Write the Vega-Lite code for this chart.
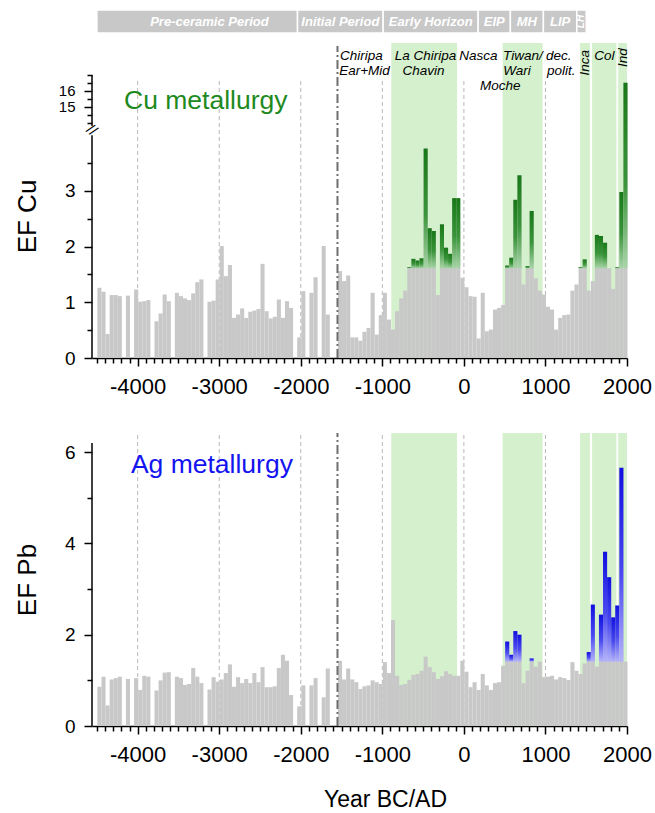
{
  "$schema": "https://vega.github.io/schema/vega-lite/v6.json",
  "padding": {"left": 14, "top": 9, "right": 2, "bottom": 2},
  "spacing": 35,
  "config": {
    "view": {"stroke": null},
    "font": "Liberation Sans",
    "axis": {"labelFont": "Liberation Sans", "titleFont": "Liberation Sans", "labelColor": "black", "titleColor": "black", "domainColor": "black", "tickColor": "black", "tickWidth": 1.5, "domainWidth": 1.5, "grid": false, "titleFontWeight": "normal", "labelFlush": false, "labelOverlap": false}
  },
  "datasets": {
    "ef": [
      {"year":-4500,"cu":1.26,"pb":0.86},{"year":-4450,"cu":1.19,"pb":1.08},{"year":-4400,"cu":0.43,"pb":0.45},{"year":-4350,"cu":1.13,"pb":1.02},{"year":-4300,"cu":1.13,"pb":1.05},
      {"year":-4250,"cu":1.11,"pb":1.08},{"year":-4200,"cu":0,"pb":0},{"year":-4150,"cu":1.12,"pb":1.03},{"year":-4100,"cu":0,"pb":0},{"year":-4050,"cu":1.23,"pb":1.05},
      {"year":-4000,"cu":1.01,"pb":0.79},{"year":-3950,"cu":1.02,"pb":1.10},{"year":-3900,"cu":1.04,"pb":1.08},{"year":-3850,"cu":0,"pb":0},{"year":-3800,"cu":0.66,"pb":0.78},
      {"year":-3750,"cu":0.80,"pb":1.00},{"year":-3700,"cu":1.14,"pb":1.17},{"year":-3650,"cu":1.02,"pb":1.18},{"year":-3600,"cu":0,"pb":0},{"year":-3550,"cu":1.17,"pb":1.08},
      {"year":-3500,"cu":1.11,"pb":1.05},{"year":-3450,"cu":1.07,"pb":0.90},{"year":-3400,"cu":1.04,"pb":0.92},{"year":-3350,"cu":1.16,"pb":1.27},{"year":-3300,"cu":1.36,"pb":1.08},
      {"year":-3250,"cu":1.41,"pb":0.94},{"year":-3200,"cu":0,"pb":0},{"year":-3150,"cu":1.01,"pb":0.80},{"year":-3100,"cu":1.03,"pb":1.07},{"year":-3050,"cu":1.41,"pb":0.97},
      {"year":-3000,"cu":2.01,"pb":1.02},{"year":-2950,"cu":1.47,"pb":1.16},{"year":-2900,"cu":1.67,"pb":1.35},{"year":-2850,"cu":0.72,"pb":0.86},{"year":-2800,"cu":0.78,"pb":1.07},
      {"year":-2750,"cu":0.89,"pb":0.94},{"year":-2700,"cu":0.72,"pb":1.03},{"year":-2650,"cu":0.83,"pb":0.94},{"year":-2600,"cu":0.85,"pb":1.16},{"year":-2550,"cu":0.88,"pb":0.96},
      {"year":-2500,"cu":1.69,"pb":1.29},{"year":-2450,"cu":0.84,"pb":0.85},{"year":-2400,"cu":0.71,"pb":0.85},{"year":-2350,"cu":0.74,"pb":0.87},{"year":-2300,"cu":1.05,"pb":1.27},
      {"year":-2250,"cu":0.72,"pb":1.56},{"year":-2200,"cu":1.02,"pb":1.43},{"year":-2150,"cu":0.90,"pb":0.68},{"year":-2100,"cu":0,"pb":0},{"year":-2050,"cu":0.37,"pb":0.43},
      {"year":-2000,"cu":1.20,"pb":0.89},{"year":-1950,"cu":0,"pb":0},{"year":-1900,"cu":1.17,"pb":0.89},{"year":-1850,"cu":1.45,"pb":1.05},{"year":-1800,"cu":0,"pb":0},
      {"year":-1750,"cu":2.01,"pb":0.63},{"year":-1700,"cu":0.78,"pb":1.26},{"year":-1650,"cu":0,"pb":0},{"year":-1600,"cu":0,"pb":0},{"year":-1550,"cu":1.56,"pb":1.43},
      {"year":-1500,"cu":1.38,"pb":1.02},{"year":-1450,"cu":1.48,"pb":1.26},{"year":-1400,"cu":0.37,"pb":1.02},{"year":-1350,"cu":0.37,"pb":0.96},{"year":-1300,"cu":0.31,"pb":0.81},
      {"year":-1250,"cu":0.47,"pb":0.87},{"year":-1200,"cu":0.54,"pb":0.89},{"year":-1150,"cu":1.17,"pb":1.00},{"year":-1100,"cu":0.42,"pb":0.96},{"year":-1050,"cu":0.77,"pb":0.92},
      {"year":-1000,"cu":1.17,"pb":1.40},{"year":-950,"cu":0.69,"pb":1.16},{"year":-900,"cu":0.51,"pb":2.32},{"year":-850,"cu":0.84,"pb":1.10},{"year":-800,"cu":1.07,"pb":0.90},
      {"year":-750,"cu":1.21,"pb":0.92},{"year":-700,"cu":1.63,"pb":1.01},{"year":-650,"cu":1.78,"pb":1.12},{"year":-600,"cu":1.75,"pb":1.14},{"year":-550,"cu":1.79,"pb":1.21},
      {"year":-500,"cu":3.76,"pb":1.52},{"year":-450,"cu":2.33,"pb":1.29},{"year":-400,"cu":2.28,"pb":1.18},{"year":-350,"cu":1.13,"pb":1.03},{"year":-300,"cu":2.40,"pb":1.09},
      {"year":-250,"cu":1.98,"pb":1.20},{"year":-200,"cu":1.87,"pb":1.14},{"year":-150,"cu":2.87,"pb":1.10},{"year":-100,"cu":2.87,"pb":1.10},{"year":-50,"cu":1.44,"pb":1.43},
      {"year":0,"cu":1.27,"pb":1.19},{"year":50,"cu":1.11,"pb":0.85},{"year":100,"cu":1.10,"pb":0.96},{"year":150,"cu":0.35,"pb":0.79},{"year":200,"cu":1.17,"pb":1.14},
      {"year":250,"cu":0.48,"pb":0.89},{"year":300,"cu":0.51,"pb":0.79},{"year":350,"cu":0.87,"pb":0.94},{"year":400,"cu":0.90,"pb":0.96},{"year":450,"cu":0.95,"pb":1.32},
      {"year":500,"cu":1.66,"pb":1.85},{"year":550,"cu":1.80,"pb":1.56},{"year":600,"cu":2.84,"pb":2.08},{"year":650,"cu":3.28,"pb":2.00},{"year":700,"cu":1.32,"pb":0.94},
      {"year":750,"cu":1.65,"pb":1.21},{"year":800,"cu":2.64,"pb":1.48},{"year":850,"cu":1.43,"pb":1.30},{"year":900,"cu":1.21,"pb":1.41},{"year":950,"cu":1.14,"pb":1.07},
      {"year":1000,"cu":0.92,"pb":1.08},{"year":1050,"cu":0.87,"pb":1.10},{"year":1100,"cu":0.51,"pb":1.02},{"year":1150,"cu":0.72,"pb":1.07},{"year":1200,"cu":0.77,"pb":1.05},
      {"year":1250,"cu":0.78,"pb":1.01},{"year":1300,"cu":1.21,"pb":1.40},{"year":1350,"cu":1.32,"pb":1.21},{"year":1400,"cu":1.63,"pb":1.14},{"year":1450,"cu":1.77,"pb":1.37},
      {"year":1500,"cu":1.21,"pb":1.62},{"year":1550,"cu":1.38,"pb":2.66},{"year":1600,"cu":2.21,"pb":1.30},{"year":1650,"cu":2.19,"pb":2.44},{"year":1700,"cu":2.07,"pb":3.82},
      {"year":1750,"cu":1.61,"pb":3.26},{"year":1800,"cu":1.24,"pb":2.38},{"year":1850,"cu":1.63,"pb":2.64},{"year":1900,"cu":2.98,"pb":5.66},{"year":1950,"cu":16.52,"pb":1.41}
    ],
    "bands": [{"s":-890,"e":-85},{"s":475,"e":965},{"s":1425,"e":1545},{"s":1572,"e":1870},{"s":1892,"e":2000}],
    "grid": [{"g":-4000},{"g":-3000},{"g":-2000},{"g":-1000},{"g":0},{"g":1000}],
    "periods": [
      {"s":-4500,"e":-2040,"m":-3120,"name":"Pre-ceramic Period"},
      {"s":-2040,"e":-990,"m":-1515,"name":"Initial Period"},
      {"s":-990,"e":175,"m":-407,"name":"Early Horizon"},
      {"s":175,"e":570,"m":372,"name":"EIP"},
      {"s":570,"e":975,"m":772,"name":"MH"},
      {"s":975,"e":1385,"m":1180,"name":"LIP"},
      {"s":1385,"e":1500,"m":1442,"name":"LH"}
    ],
    "labels": [
      {"t":"Chiripa","x":-1256,"y":18.19},
      {"t":"Ear+Mid","x":-1219,"y":17.25},
      {"t":"La Chiripa","x":-472,"y":18.19},
      {"t":"Chavin","x":-496,"y":17.25},
      {"t":"Nasca","x":178,"y":18.19},
      {"t":"Tiwan/","x":723,"y":18.19},
      {"t":"Wari","x":650,"y":17.25},
      {"t":"Moche","x":447,"y":16.335},
      {"t":"dec.","x":1164,"y":18.19},
      {"t":"polit.","x":1195,"y":17.25},
      {"t":"Col","x":1722,"y":18.19}
    ],
    "vlabels": [
      {"t":"Inca","x":1489,"y":17.77},
      {"t":"Ind","x":1955,"y":18.08}
    ]
  },
  "vconcat": [
    {
      "width": 535,
      "height": 348,
      "layer": [
        {
          "data": {"name": "bands"},
          "mark": {"type": "rect", "color": "#d4f0cc"},
          "encoding": {
            "x": {"field": "s", "type": "quantitative",
                  "scale": {"domain": [-4560, 2000], "nice": false, "zero": false},
                  "axis": {"title": null, "labelOverlap": false, "tickCount": 200,
                           "values": [-4500,-4400,-4300,-4200,-4100,-4000,-3900,-3800,-3700,-3600,-3500,-3400,-3300,-3200,-3100,-3000,-2900,-2800,-2700,-2600,-2500,-2400,-2300,-2200,-2100,-2000,-1900,-1800,-1700,-1600,-1500,-1400,-1300,-1200,-1100,-1000,-900,-800,-700,-600,-500,-400,-300,-200,-100,0,100,200,300,400,500,600,700,800,900,1000,1100,1200,1300,1400,1500,1600,1700,1800,1900,2000],
                           "labelExpr": "datum.value % 1000 === 0 ? toString(datum.value) : ''",
                           "tickSize": {"condition": {"test": "datum.value % 1000 === 0", "value": 8}, "value": 5},
                           "labelFontSize": 22, "labelPadding": 10}},
            "x2": {"field": "e"},
            "y": {"datum": 0, "type": "quantitative",
                  "scale": {"domain": [0, 4.05, 13.75, 21.06], "range": [348, 122.4, 117, 0], "nice": false, "zero": false},
                  "axis": {"title": "EF Cu", "titleFontSize": 26, "titlePadding": 8, "minExtent": 44, "maxExtent": 44, "titleY": 206,
                           "domain": false, "labelOverlap": false, "tickCount": 200,
                           "values": [0,0.5,1,1.5,2,2.5,3,3.5,14,14.5,15,15.5,16,16.5,17],
                           "labelExpr": "indexof([0,1,2,3,15,16], datum.value) >= 0 ? toString(datum.value) : ''",
                           "tickSize": {"condition": {"test": "indexof([0,1,2,3,15,16], datum.value) >= 0", "value": 8}, "value": 5},
                           "labelFontSize": {"condition": {"test": "datum.value > 10", "value": 15}, "value": 19},
                           "labelPadding": 9}},
            "y2": {"datum": 19.0}
          }
        },
        {
          "data": {"name": "grid"},
          "mark": {"type": "rule", "color": "#b8b8b8", "strokeWidth": 1, "strokeDash": [4, 3]},
          "encoding": {
            "x": {"field": "g", "type": "quantitative"},
            "y": {"datum": 0, "type": "quantitative"},
            "y2": {"datum": 16.81}
          }
        },
        {
          "data": {"name": "ef"},
          "mark": {"type": "bar", "color": "#c8c8c8", "binSpacing": 0},
          "encoding": {
            "x": {"field": "year", "type": "quantitative", "bin": {"binned": true, "step": 50}},
            "y": {"field": "cu", "type": "quantitative"},
            "y2": {"datum": 0}
          }
        },
        {
          "data": {"name": "ef"},
          "transform": [{"filter": "datum.cu > 1.615 && datum.year > -1000"}],
          "mark": {"type": "bar", "binSpacing": 0, "strokeWidth": 0,
                   "fill": {"gradient": "linear", "x1": 0, "y1": 1, "x2": 0, "y2": 0,
                            "stops": [{"offset": 0, "color": "#a9d5a9"}, {"offset": 0.45, "color": "#3a953a"}, {"offset": 1, "color": "#187818"}]}},
          "encoding": {
            "x": {"field": "year", "type": "quantitative", "bin": {"binned": true, "step": 50}},
            "y": {"field": "cu", "type": "quantitative"},
            "y2": {"datum": 1.61}
          }
        },
        {
          "data": {"values": [{"x": -1550}]},
          "mark": {"type": "rule", "color": "#6e6e6e", "strokeWidth": 2, "strokeDash": [9, 3, 2, 3]},
          "encoding": {
            "x": {"field": "x", "type": "quantitative"},
            "y": {"datum": 0, "type": "quantitative"},
            "y2": {"datum": 18.81}
          }
        },
        {
          "data": {"values": [{"a": 0, "b": 4.0}, {"a": 13.81, "b": 17.0}]},
          "mark": {"type": "rule", "color": "black", "strokeWidth": 1.5},
          "encoding": {
            "x": {"datum": -4560, "type": "quantitative"},
            "y": {"field": "a", "type": "quantitative"},
            "y2": {"field": "b"}
          }
        },
        {
          "data": {"values": [{"t": "//"}]},
          "mark": {"type": "text", "fontSize": 15, "angle": 40, "color": "black", "align": "center", "baseline": "middle"},
          "encoding": {
            "x": {"datum": -4560, "type": "quantitative"},
            "y": {"datum": 8, "type": "quantitative"},
            "text": {"field": "t"}
          }
        },
        {
          "data": {"name": "periods"},
          "mark": {"type": "rect", "color": "#c8c8c8", "stroke": "white", "strokeWidth": 1.5},
          "encoding": {
            "x": {"field": "s", "type": "quantitative"},
            "x2": {"field": "e"},
            "y": {"datum": 19.62, "type": "quantitative"},
            "y2": {"datum": 21.06}
          }
        },
        {
          "data": {"name": "periods"},
          "transform": [{"filter": "datum.name !== 'LH'"}],
          "mark": {"type": "text", "color": "white", "fontSize": 13, "fontWeight": "bold", "fontStyle": "italic", "align": "center", "baseline": "middle"},
          "encoding": {
            "x": {"field": "m", "type": "quantitative"},
            "y": {"datum": 20.34, "type": "quantitative"},
            "text": {"field": "name"}
          }
        },
        {
          "data": {"name": "periods"},
          "transform": [{"filter": "datum.name === 'LH'"}],
          "mark": {"type": "text", "color": "white", "fontSize": 10, "fontWeight": "bold", "fontStyle": "italic", "align": "center", "baseline": "middle", "angle": -90},
          "encoding": {
            "x": {"field": "m", "type": "quantitative"},
            "y": {"datum": 20.34, "type": "quantitative"},
            "text": {"field": "name"}
          }
        },
        {
          "data": {"name": "labels"},
          "mark": {"type": "text", "color": "black", "fontSize": 13.5, "fontStyle": "italic", "align": "center", "baseline": "middle"},
          "encoding": {
            "x": {"field": "x", "type": "quantitative"},
            "y": {"field": "y", "type": "quantitative"},
            "text": {"field": "t"}
          }
        },
        {
          "data": {"name": "vlabels"},
          "mark": {"type": "text", "color": "black", "fontSize": 13.5, "fontStyle": "italic", "align": "center", "baseline": "middle", "angle": -90},
          "encoding": {
            "x": {"field": "x", "type": "quantitative"},
            "y": {"field": "y", "type": "quantitative"},
            "text": {"field": "t"}
          }
        },
        {
          "data": {"values": [{"t": "Cu metallurgy", "x": -3165, "y": 14.86}]},
          "mark": {"type": "text", "color": "#1e8a1e", "fontSize": 26.5, "align": "center", "baseline": "alphabetic"},
          "encoding": {
            "x": {"field": "x", "type": "quantitative"},
            "y": {"field": "y", "type": "quantitative"},
            "text": {"field": "t"}
          }
        }
      ]
    },
    {
      "width": 535,
      "height": 293,
      "layer": [
        {
          "data": {"name": "bands"},
          "mark": {"type": "rect", "color": "#d4f0cc"},
          "encoding": {
            "x": {"field": "s", "type": "quantitative",
                  "scale": {"domain": [-4560, 2000], "nice": false, "zero": false},
                  "axis": {"title": "Year BC/AD", "titleFontSize": 23, "titlePadding": 23, "titleX": 293, "labelOverlap": false, "tickCount": 200,
                           "values": [-4500,-4400,-4300,-4200,-4100,-4000,-3900,-3800,-3700,-3600,-3500,-3400,-3300,-3200,-3100,-3000,-2900,-2800,-2700,-2600,-2500,-2400,-2300,-2200,-2100,-2000,-1900,-1800,-1700,-1600,-1500,-1400,-1300,-1200,-1100,-1000,-900,-800,-700,-600,-500,-400,-300,-200,-100,0,100,200,300,400,500,600,700,800,900,1000,1100,1200,1300,1400,1500,1600,1700,1800,1900,2000],
                           "labelExpr": "datum.value % 1000 === 0 ? toString(datum.value) : ''",
                           "tickSize": {"condition": {"test": "datum.value % 1000 === 0", "value": 8}, "value": 5},
                           "labelFontSize": 22, "labelPadding": 10}},
            "x2": {"field": "e"},
            "y": {"datum": 0, "type": "quantitative",
                  "scale": {"domain": [0, 6.42], "nice": false, "zero": false},
                  "axis": {"title": "EF Pb", "titleFontSize": 26, "titlePadding": 8, "minExtent": 44, "maxExtent": 44,
                           "domain": false, "labelOverlap": false, "tickCount": 200,
                           "values": [0,1,2,3,4,5,6],
                           "labelExpr": "datum.value % 2 === 0 ? toString(datum.value) : ''",
                           "tickSize": {"condition": {"test": "datum.value % 2 === 0", "value": 8}, "value": 5},
                           "labelFontSize": 19, "labelPadding": 9}},
            "y2": {"datum": 6.42}
          }
        },
        {
          "data": {"name": "grid"},
          "mark": {"type": "rule", "color": "#b8b8b8", "strokeWidth": 1, "strokeDash": [4, 3]},
          "encoding": {
            "x": {"field": "g", "type": "quantitative"},
            "y": {"datum": 0, "type": "quantitative"},
            "y2": {"datum": 6.42}
          }
        },
        {
          "data": {"name": "ef"},
          "mark": {"type": "bar", "color": "#c8c8c8", "binSpacing": 0},
          "encoding": {
            "x": {"field": "year", "type": "quantitative", "bin": {"binned": true, "step": 50}},
            "y": {"field": "pb", "type": "quantitative"},
            "y2": {"datum": 0}
          }
        },
        {
          "data": {"name": "ef"},
          "transform": [{"filter": "datum.pb > 1.42 && datum.year >= 450"}],
          "mark": {"type": "bar", "binSpacing": 0, "strokeWidth": 0,
                   "fill": {"gradient": "linear", "x1": 0, "y1": 1, "x2": 0, "y2": 0,
                            "stops": [{"offset": 0, "color": "#b4b4fa"}, {"offset": 0.45, "color": "#4a4af0"}, {"offset": 1, "color": "#1010e0"}]}},
          "encoding": {
            "x": {"field": "year", "type": "quantitative", "bin": {"binned": true, "step": 50}},
            "y": {"field": "pb", "type": "quantitative"},
            "y2": {"datum": 1.41}
          }
        },
        {
          "data": {"values": [{"x": -1550}]},
          "mark": {"type": "rule", "color": "#6e6e6e", "strokeWidth": 2, "strokeDash": [9, 3, 2, 3]},
          "encoding": {
            "x": {"field": "x", "type": "quantitative"},
            "y": {"datum": 0, "type": "quantitative"},
            "y2": {"datum": 6.42}
          }
        },
        {
          "data": {"values": [{"a": 0, "b": 6.2}]},
          "mark": {"type": "rule", "color": "black", "strokeWidth": 1.5},
          "encoding": {
            "x": {"datum": -4560, "type": "quantitative"},
            "y": {"field": "a", "type": "quantitative"},
            "y2": {"field": "b"}
          }
        },
        {
          "data": {"values": [{"t": "Ag metallurgy", "x": -3090, "y": 5.55}]},
          "mark": {"type": "text", "color": "#1414f0", "fontSize": 26.5, "align": "center", "baseline": "alphabetic"},
          "encoding": {
            "x": {"field": "x", "type": "quantitative"},
            "y": {"field": "y", "type": "quantitative"},
            "text": {"field": "t"}
          }
        }
      ]
    }
  ]
}
